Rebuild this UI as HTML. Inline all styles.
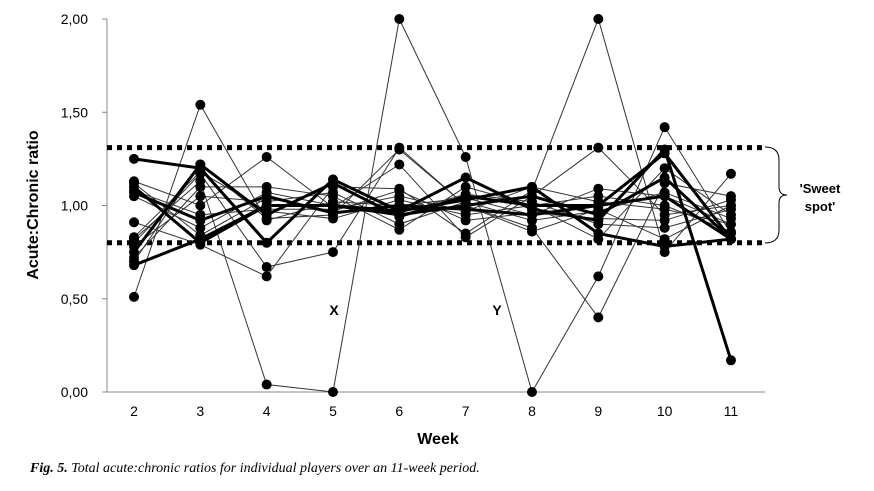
<!DOCTYPE html>
<html><head><meta charset="utf-8"><style>
body{margin:0;background:#fff;width:874px;height:486px;overflow:hidden;font-family:"Liberation Sans",sans-serif}
</style></head><body>
<svg id="chart" width="874" height="486" viewBox="0 0 874 486" xmlns="http://www.w3.org/2000/svg">
<g id="axes"></g><g id="lines"></g><g id="dots"></g>
<text x="334" y="315" font-size="14" font-weight="bold" text-anchor="middle">X</text>
<text x="497" y="315" font-size="14" font-weight="bold" text-anchor="middle">Y</text>
<path d="M765 147 Q779 147 779 160 L779 187 Q779 195 787 195 Q779 195 779 203 L779 230 Q779 243 765 243" fill="none" stroke="#000" stroke-width="1"/>
<text x="820" y="193" font-size="13" font-weight="bold" text-anchor="middle">'Sweet</text>
<text x="820" y="211" font-size="13" font-weight="bold" text-anchor="middle">spot'</text>
<text x="438" y="444" font-size="16" font-weight="bold" text-anchor="middle">Week</text>
<text transform="translate(38,205) rotate(-90)" font-size="16" font-weight="bold" text-anchor="middle">Acute:Chronic ratio</text>
<text x="30" y="472" font-family="Liberation Serif,serif" font-size="14" font-style="italic"><tspan font-weight="bold">Fig. 5.</tspan> Total acute:chronic ratios for individual players over an 11-week period.</text>
</svg>
<script>
const weeks=[2,3,4,5,6,7,8,9,10,11];
const yTicks=[0,0.5,1,1.5,2];
const yTickLabels=["0,00","0,50","1,00","1,50","2,00"];
const sweetSpot=[0.80,1.31];
const thickSeries=[
[1.25,1.20,0.80,1.14,0.97,1.15,0.98,0.92,1.30,0.17],
[0.68,0.82,1.00,1.00,0.95,1.00,1.05,0.95,1.15,0.82],
[1.07,0.92,1.05,0.96,1.00,0.98,0.95,1.00,1.28,0.82],
[1.10,0.80,1.00,1.00,0.97,1.03,1.10,0.85,0.78,0.82],
[0.75,1.22,0.95,1.12,0.94,1.05,1.00,1.00,1.05,0.82]];
const thinSeries=[
[0.51,1.54,0.92,1.02,1.00,1.04,0.95,1.09,1.05,0.90],
[0.82,1.13,0.04,0.00,2.00,1.26,0.00,0.62,1.42,0.85],
[0.91,0.79,0.62,1.10,1.09,0.85,1.08,2.00,0.75,1.17],
[1.13,1.00,1.26,0.99,1.22,0.83,1.05,1.31,0.95,1.00],
[0.80,1.17,0.67,0.75,1.31,1.00,0.88,0.40,1.12,1.05],
[0.72,1.10,1.10,1.05,0.87,1.10,1.00,0.82,1.20,0.95],
[1.08,0.95,0.98,0.98,1.05,0.97,1.10,1.02,0.98,0.90],
[0.78,1.05,1.02,1.07,0.90,1.02,0.92,0.97,1.07,0.93],
[0.70,1.22,0.93,0.95,1.30,1.00,0.86,0.98,0.82,1.00],
[1.05,0.88,1.07,1.00,0.96,1.06,1.02,0.90,0.88,0.98],
[0.83,1.18,0.97,0.93,1.03,0.95,1.00,1.05,1.00,0.86],
[1.12,0.84,1.04,0.97,1.08,0.92,0.96,0.93,0.92,1.03]];
const NS="http://www.w3.org/2000/svg";
const X=w=>134+(w-2)*66.33;
const Y=v=>392-186.5*v;
function mk(tag,attrs,parent){const e=document.createElementNS(NS,tag);for(const k in attrs)e.setAttribute(k,attrs[k]);parent.appendChild(e);return e;}
const axes=document.getElementById('axes'),lines=document.getElementById('lines'),dots=document.getElementById('dots');
let a=mk('line',{x1:107,y1:Y(2),x2:107,y2:Y(0),stroke:'#888','stroke-width':1},axes);


a=mk('line',{x1:107,y1:Y(0),x2:765,y2:Y(0),stroke:'#888','stroke-width':1},axes);


yTicks.forEach((v,i)=>{
 mk('line',{x1:102,x2:107,y1:Y(v),y2:Y(v),stroke:'#888'},axes);
 const t=mk('text',{x:88,y:Y(v)+5,'font-size':14,'text-anchor':'end'},axes);t.textContent=yTickLabels[i];
 
 
});
weeks.forEach(w=>{
 const t=mk('text',{x:X(w),y:416,'font-size':14,'text-anchor':'middle'},axes);t.textContent=w;
 
 
});
sweetSpot.forEach(v=>{
 const l=mk('line',{x1:107,x2:765,y1:Y(v),y2:Y(v),stroke:'#000','stroke-width':5,'stroke-dasharray':'5 5'},axes);
 
 
});
function draw(s,w){
 const p=mk('polyline',{points:s.map((v,i)=>X(weeks[i])+','+Y(v)).join(' '),fill:'none',stroke:w>2?'#000':'#333','stroke-width':w},lines);
 
 
 s.forEach((v,i)=>{
  const c=mk('circle',{cx:X(weeks[i]),cy:Y(v),r:5,fill:'#000'},dots);
  
  
 });
}
thinSeries.forEach(s=>draw(s,1));
thickSeries.forEach(s=>draw(s,3));
</script>
</body></html>
